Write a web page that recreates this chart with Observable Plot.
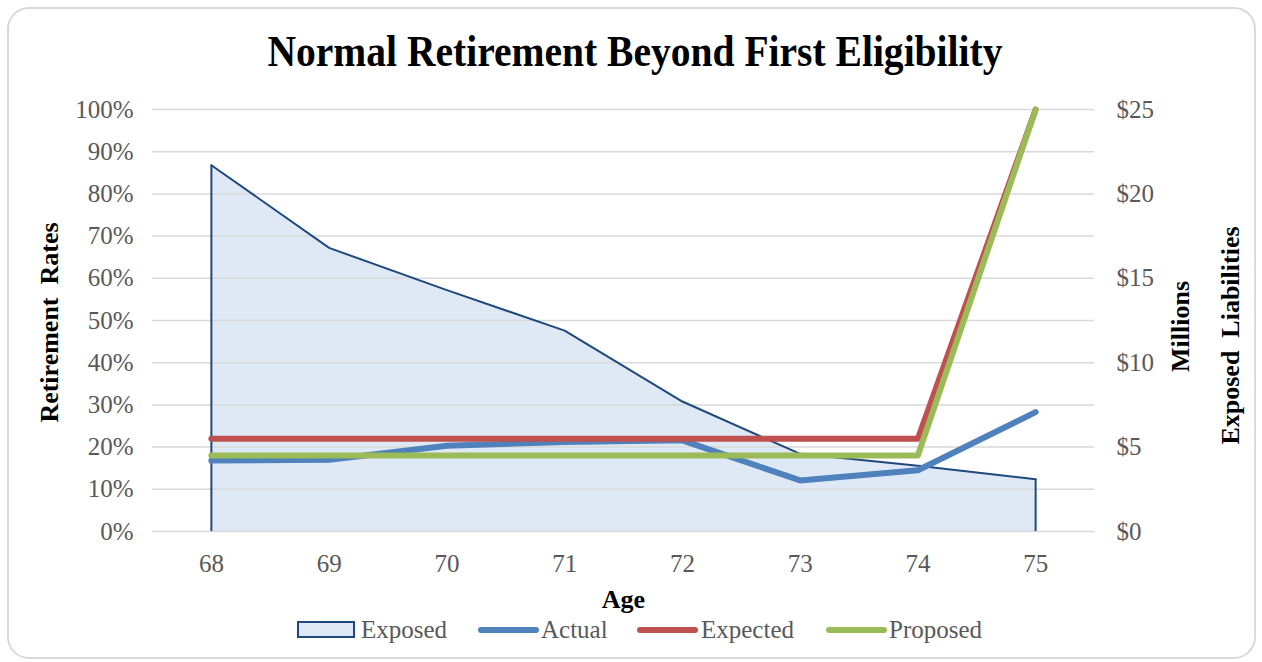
<!DOCTYPE html>
<html>
<head>
<meta charset="utf-8">
<script src="https://cdn.jsdelivr.net/npm/d3@7"></script>
<script src="https://cdn.jsdelivr.net/npm/@observablehq/plot@0.6"></script>
<style>
  body { margin: 0; background: #fff; }
  #wrap { position: relative; width: 1262px; height: 662px; overflow: hidden;
          font-family: "Liberation Serif", "Times New Roman", serif; }
  #frame { position: absolute; left: 7px; top: 7px; width: 1249px; height: 652px;
           border: 2px solid #d9d9d9; border-radius: 22px; box-sizing: border-box; }
  #title { position: absolute; left: 0; top: 0; }
  #chart { position: absolute; left: 0; top: 95px; }
  #legend { position: absolute; left: 0; top: 600px; }
</style>
</head>
<body>
<div id="wrap">
  <div id="frame"></div>
  <div id="title"></div>
  <div id="chart"></div>
  <div id="legend"></div>
</div>
<script>
// ---- data ----
const ages = [68, 69, 70, 71, 72, 73, 74, 75];
const exposed = [21.7, 16.8, 14.3, 11.9, 7.7, 4.6, 3.9, 3.1];      // $ millions
const actual = [0.168, 0.170, 0.203, 0.212, 0.216, 0.121, 0.145, 0.283];
const expected = [0.22, 0.22, 0.22, 0.22, 0.22, 0.22, 0.22, 1.00];
const proposed = [0.18, 0.18, 0.18, 0.18, 0.18, 0.18, 0.18, 1.00];
const leftTicks = [0, 0.1, 0.2, 0.3, 0.4, 0.5, 0.6, 0.7, 0.8, 0.9, 1.0];
const rightTicks = [0, 5, 10, 15, 20, 25];
const rightMax = 25;
const titleText = "Normal Retirement Beyond First Eligibility";
const seriesNames = ["Exposed", "Actual", "Expected", "Proposed"];
const colors = {Exposed: "#dfe9f6", Actual: "#4f81bd", Expected: "#c0504d", Proposed: "#9bbb59"};
const exposedStroke = "#1f497d";

// ---- tables ----
const areaData = ages.map((a, i) => ({age: a, value: exposed[i] / rightMax}));
const lineData = [];
[["Actual", actual], ["Expected", expected], ["Proposed", proposed]].forEach(([name, arr]) => {
  ages.forEach((a, i) => lineData.push({series: name, age: a, value: arr[i]}));
});

// ---- title ----
const ns = "http://www.w3.org/2000/svg";
const tsvg = document.createElementNS(ns, "svg");
tsvg.setAttribute("width", 1262); tsvg.setAttribute("height", 95);
const tt = document.createElementNS(ns, "text");
tt.setAttribute("x", 635); tt.setAttribute("y", 66);
tt.setAttribute("text-anchor", "middle");
tt.setAttribute("font-family", "Liberation Serif, Times New Roman, serif");
tt.setAttribute("font-weight", "bold");
tt.setAttribute("font-size", 44);
tt.setAttribute("textLength", 735);
tt.setAttribute("lengthAdjust", "spacingAndGlyphs");
tt.setAttribute("fill", "#000");
tt.textContent = titleText;
tsvg.appendChild(tt);
document.getElementById("title").appendChild(tsvg);

// ---- chart ----
const chart = Plot.plot({
  width: 1262,
  height: 520,
  marginLeft: 152,
  marginRight: 168,
  marginTop: 14,
  marginBottom: 84,
  style: {fontFamily: "Liberation Serif, Times New Roman, serif", fontSize: "25px", color: "#595959", background: "transparent"},
  x: {type: "point", domain: ages, padding: 0.5, round: false},
  y: {domain: [0, 1]},
  color: {domain: ["Actual", "Expected", "Proposed"], range: [colors.Actual, colors.Expected, colors.Proposed]},
  marks: [
    Plot.areaY(areaData, {x: "age", y: "value", fill: colors.Exposed}),
    Plot.gridY(leftTicks, {stroke: "#d9d9d9", strokeOpacity: 1, strokeWidth: 1.5}),
    Plot.lineY(areaData, {x: "age", y: "value", stroke: exposedStroke, strokeWidth: 2}),
    Plot.ruleX([ages[0], ages[ages.length - 1]], {x: d => d, y1: 0, y2: (d) => areaData.find(r => r.age === d).value, stroke: exposedStroke, strokeWidth: 2}),
    Plot.axisY(leftTicks, {anchor: "left", tickSize: 0, tickPadding: 19, tickFormat: d => Math.round(d * 100) + "%", label: null}),
    Plot.axisY(rightTicks.map(v => v / rightMax), {anchor: "right", tickSize: 0, tickPadding: 22, tickFormat: d => "$" + Math.round(d * rightMax), label: null}),
    Plot.axisX({tickSize: 0, tickPadding: 23, label: null}),
    Plot.lineY(lineData, {x: "age", y: "value", stroke: "series", z: "series", strokeWidth: 6, strokeLinecap: "round", strokeLinejoin: "round"}),
    Plot.text(["Retirement\u00a0\u00a0Rates"], {text: d => d, frameAnchor: "left", dx: -103, dy: 2, rotate: -90, textAnchor: "middle", lineAnchor: "middle", fontWeight: "bold", fontSize: 26, fill: "#000"}),
    Plot.text(["Millions"], {text: d => d, frameAnchor: "right", dx: 86, dy: 6, rotate: -90, textAnchor: "middle", lineAnchor: "middle", fontWeight: "bold", fontSize: 26, fill: "#000"}),
    Plot.text(["Exposed\u00a0\u00a0Liabilities"], {text: d => d, frameAnchor: "right", dx: 136, dy: 15, rotate: -90, textAnchor: "middle", lineAnchor: "middle", fontWeight: "bold", fontSize: 26, fill: "#000"}),
    Plot.text(["Age"], {text: d => d, frameAnchor: "bottom", dy: 68, textAnchor: "middle", lineAnchor: "middle", fontWeight: "bold", fontSize: 26, fill: "#000"})
  ]
});
document.getElementById("chart").appendChild(chart);

// ---- legend ----
const lsvg = document.createElementNS(ns, "svg");
lsvg.setAttribute("width", 1262); lsvg.setAttribute("height", 62);
const items = [
  {name: seriesNames[0], sx: 298, tx: 361},
  {name: seriesNames[1], sx: 478, tx: 541},
  {name: seriesNames[2], sx: 637, tx: 701},
  {name: seriesNames[3], sx: 826, tx: 889}
];
items.forEach((it, i) => {
  if (i === 0) {
    const r = document.createElementNS(ns, "rect");
    r.setAttribute("x", it.sx); r.setAttribute("y", 22);
    r.setAttribute("width", 56); r.setAttribute("height", 15);
    r.setAttribute("fill", colors.Exposed); r.setAttribute("stroke", exposedStroke); r.setAttribute("stroke-width", 2);
    lsvg.appendChild(r);
  } else {
    const l = document.createElementNS(ns, "line");
    l.setAttribute("x1", it.sx + 3); l.setAttribute("x2", it.sx + 58);
    l.setAttribute("y1", 30); l.setAttribute("y2", 30);
    l.setAttribute("stroke", colors[it.name]); l.setAttribute("stroke-width", 6); l.setAttribute("stroke-linecap", "round");
    lsvg.appendChild(l);
  }
  const t = document.createElementNS(ns, "text");
  t.setAttribute("x", it.tx); t.setAttribute("y", 38);
  t.setAttribute("font-family", "Liberation Serif, Times New Roman, serif");
  t.setAttribute("font-size", 25); t.setAttribute("fill", "#595959");
  t.textContent = it.name;
  lsvg.appendChild(t);
});
document.getElementById("legend").appendChild(lsvg);
</script>
</body>
</html>
